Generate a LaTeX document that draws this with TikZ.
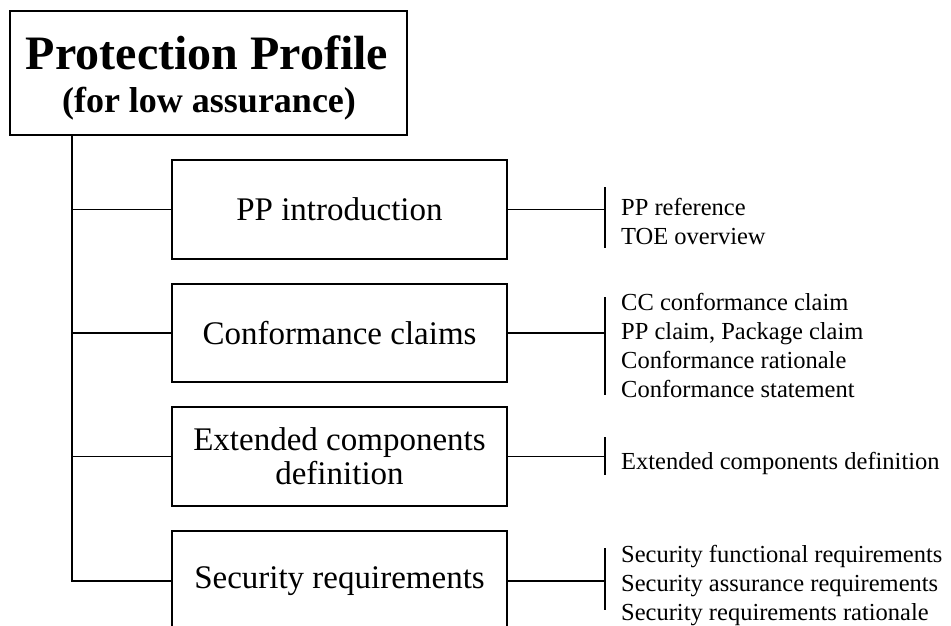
\documentclass[tikz,border=0pt]{standalone}
\usepackage{fontspec}
\setmainfont{Liberation Serif}
\begin{document}
\begin{tikzpicture}[x=1pt,y=-1pt,
  part/.style={draw, line width=1.2pt, minimum width=335pt, minimum height=99pt,
    inner sep=0pt, align=center, font=\fontsize{33}{34}\selectfont},
  item/.style={anchor=base west, inner sep=0pt, align=left,
    font=\fontsize{24.5}{28.7}\selectfont},
  wire/.style={line width=1.2pt}]
\useasboundingbox (0,0) rectangle (951,626);
\clip (0,0) rectangle (951,626);

% title block
\node[draw, line width=1.3pt, minimum width=397pt, minimum height=124pt, inner sep=0pt]
  (pp) at (208.5,73) {};
\node[anchor=base, inner sep=0pt, font=\bfseries\fontsize{48}{48}\selectfont]
  (ttl) at (207,70) {Protection Profile};
\node[anchor=base, inner sep=0pt, font=\bfseries\fontsize{36}{36}\selectfont]
  (sub) at (209,112) {(for low assurance)};

% the four parts
\node[part] (b1) at (339.5,209.5) {PP introduction};
\node[part, minimum height=98pt] (b2) at (339.5,333) {Conformance claims};
\node[part] (b3) at (339.5,456.5) {Extended components\\definition};
\node[part, minimum height=100pt] (b4) at (339.5,581) {Security requirements};

% trunk and branches
\coordinate (trunk) at (72,0);
\coordinate (brk) at (605,0);
\draw[wire] (pp.south -| trunk) |- (b4.west);
\foreach \b in {b1,b2,b3}
  \draw[wire] (trunk |- \b.west) -- (\b.west);
\foreach \b in {b1,b2,b3,b4}
  \draw[wire] (\b.east) -- (\b.east -| brk);

% brackets
\draw[wire] (605,187) -- (605,248);
\draw[wire] (605,297) -- (605,395);
\draw[wire] (605,437) -- (605,475);
\draw[wire] (605,548) -- (605,610);

% contents of each part (anchored at the baseline of the last line)
\node[item] (l1) at (621,244) {PP reference\\TOE overview};
\node[item] (l2) at (621,397) {CC conformance claim\\PP claim, Package claim\\Conformance rationale\\Conformance statement};
\node[item] (l3) at (621,469) {Extended components definition};
\node[item] (l4) at (621,620) {Security functional requirements\\Security assurance requirements\\Security requirements rationale};
\end{tikzpicture}
\end{document}
